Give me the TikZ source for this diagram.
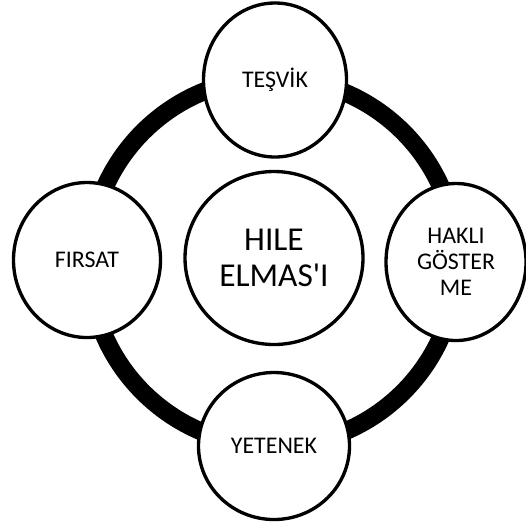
\documentclass[tikz,border=0pt]{standalone}
\usepackage{fontspec}
\setmainfont{Carlito}[Ligatures=TeXOff]
\usetikzlibrary{shapes.geometric}
\begin{document}
\begin{tikzpicture}[x=0.02cm,y=-0.02cm, line join=round, line cap=round,
  kucuk/.style={ellipse,draw,line width=1.9pt,fill=white,inner sep=0pt,align=center,
    font=\fontsize{13.6}{14.8}\selectfont},
  buyuk/.style={kucuk,font=\fontsize{19}{20.5}\selectfont}]
\def\cx{273} \def\cy{262} \def\r{184} % halka
\useasboundingbox (0,0) rectangle (526,525);
\draw[line width=10.2pt] (\cx,\cy) circle (\r);
\node[kucuk,minimum width=143*0.02cm,minimum height=154*0.02cm] (tesvik) at (275,80) {TEŞVİK};
\node[kucuk,minimum width=147*0.02cm,minimum height=155*0.02cm] (firsat) at (87,260) {FIRSAT};
\node[kucuk,minimum width=140*0.02cm,minimum height=157*0.02cm] (hakli) at (456,262) {HAKLI\\GÖSTER\\ME};
\node[kucuk,minimum width=151*0.02cm,minimum height=147*0.02cm] (yetenek) at (274,446) {YETENEK};
\node[buyuk,minimum width=178*0.02cm,minimum height=173*0.02cm] (elmas) at (274,258) {HILE\\ELMAS'I};
\end{tikzpicture}
\end{document}
